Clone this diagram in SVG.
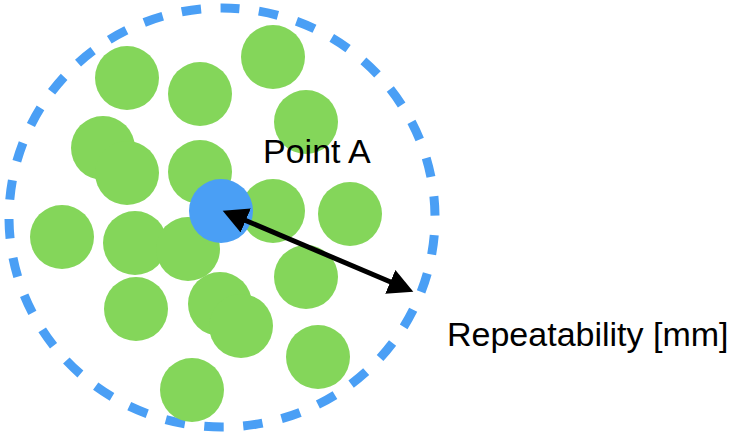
<svg xmlns="http://www.w3.org/2000/svg" width="742" height="434" viewBox="0 0 742 434">
  <style>
    .dot { fill: #84D65A; }
    .pointA { fill: #4A9FF5; }
    .boundary { fill: none; stroke: #4A9FF5; stroke-width: 9; stroke-dasharray: 19.5 19.54; stroke-dashoffset: 2; }
    .arrow { stroke: #000; stroke-width: 5; fill: none; }
    .label { font-family: "Liberation Sans", Arial, Helvetica, sans-serif; font-size: 34px; fill: #000; }
  </style>
  <defs>
    <marker id="head" markerUnits="userSpaceOnUse" markerWidth="26" markerHeight="26" viewBox="0 0 26 26" refX="10" refY="13" orient="auto-start-reverse">
      <path d="M0,0 L25,13 L0,26 z" fill="#000"/>
    </marker>
  </defs>
  <rect width="742" height="434" fill="#fff"/>
  <g id="boundary">
    <path class="boundary" d="M222,8 A213,209.5 0 1 1 222,427 A213,209.5 0 1 1 222,8 Z"/>
  </g>
  <g id="measurements">
    <circle class="dot" cx="127" cy="78" r="32"/>
    <circle class="dot" cx="200" cy="94" r="32"/>
    <circle class="dot" cx="273" cy="57" r="32"/>
    <circle class="dot" cx="306" cy="122" r="32"/>
    <circle class="dot" cx="103" cy="148" r="32"/>
    <circle class="dot" cx="127" cy="173" r="32"/>
    <circle class="dot" cx="200" cy="172" r="32"/>
    <circle class="dot" cx="273" cy="211" r="32"/>
    <circle class="dot" cx="350" cy="214" r="32"/>
    <circle class="dot" cx="62" cy="237" r="32"/>
    <circle class="dot" cx="135" cy="243" r="32"/>
    <circle class="dot" cx="188" cy="249" r="32"/>
    <circle class="dot" cx="306" cy="277" r="32"/>
    <circle class="dot" cx="136" cy="309" r="32"/>
    <circle class="dot" cx="220" cy="304" r="32"/>
    <circle class="dot" cx="241" cy="326" r="32"/>
    <circle class="dot" cx="318" cy="357" r="32"/>
    <circle class="dot" cx="192" cy="390" r="32"/>
  </g>
  <g id="point-a">
    <circle class="pointA" cx="221" cy="211" r="32"/>
    <text class="label" x="263" y="163">Point A</text>
  </g>
  <g id="connectors">
    <line class="arrow" x1="236.5" y1="216.6" x2="399.5" y2="285.8" marker-start="url(#head)" marker-end="url(#head)"/>
  </g>
  <g id="repeatability-label">
    <text class="label" x="447" y="346">Repeatability [mm]</text>
  </g>
</svg>
